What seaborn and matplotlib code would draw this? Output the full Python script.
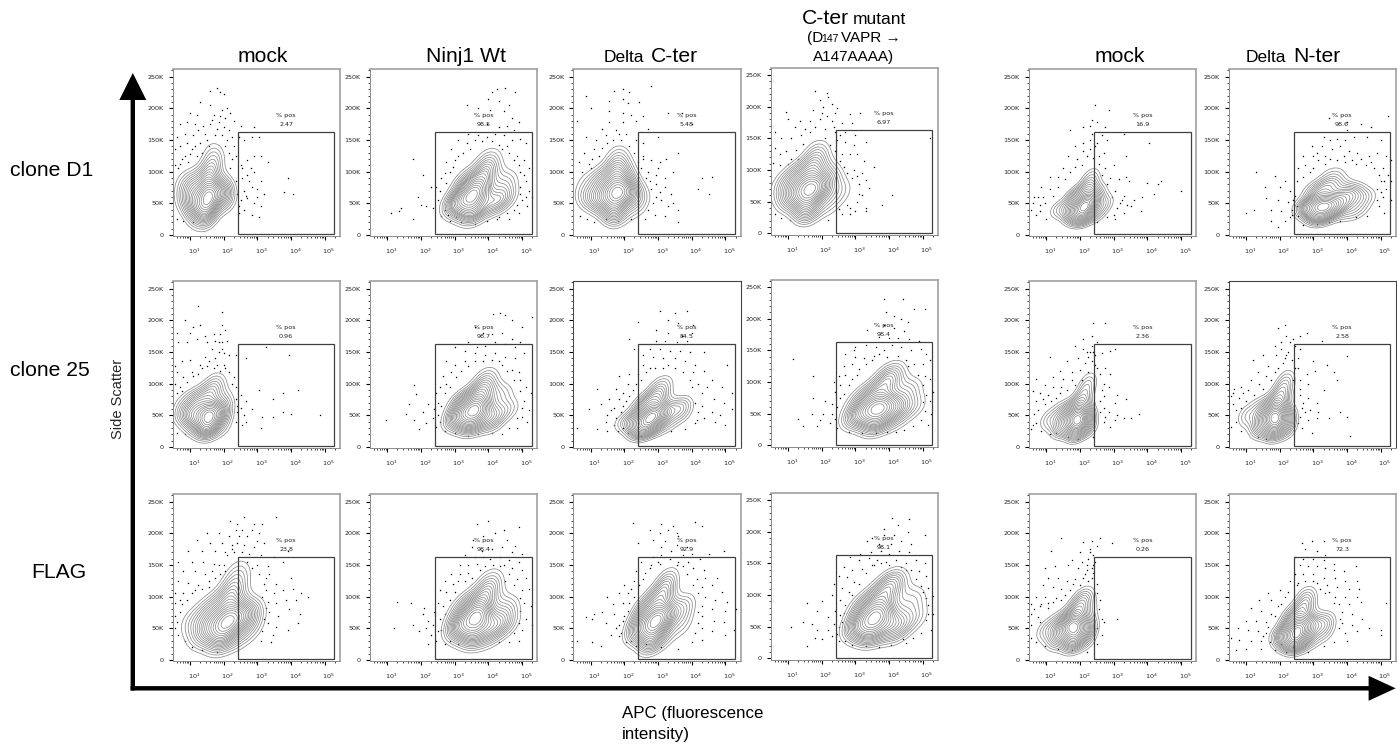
import matplotlib
matplotlib.use("Agg")
import numpy as np
import pandas as pd
import matplotlib.pyplot as plt
from matplotlib.patches import FancyArrow, Rectangle
from matplotlib.transforms import ScaledTranslation
import seaborn as sb

W, H = 1397, 750
SANS = ['Liberation Sans', 'DejaVu Sans']

# axes frame in picture pixels
col_left = [172.7, 370, 573.3, 770.7, 1029, 1228.7]
col_dy = [0, 0, 0, -1.5, 0, 0]
row_top = [69, 281, 494]
box_w, box_h = 167.3, 167
dark_frames = [(1, 2), (1, 5)]

row_names = ['clone D1', 'clone 25', 'FLAG']

pct_labels = [['2.47', '98.5', '5.48', '6.97', '16.9', '98.6'],
              ['0.96', '98.7', '84.5', '98.4', '2.36', '2.58'],
              ['23.8', '98.4', '92.9', '98.1', '0.26', '72.3']]

# dense part of each sample: (log10 APC, SSC in K, weight)
d1_mock_core = [(1.55,62,10),(1.5,35,6),(1.95,70,5),(1.1,50,5),(1.1,80,4),(1.55,95,5),(1.75,120,2.5),(0.8,60,2),(2.1,55,2.5),(1.6,135,1),(0.75,85,1.2),(1.2,30,2)]
d1_wt_core = [(3.65,68,10),(3.5,40,6),(4.2,52,5),(3.2,55,5),(3.35,85,4),(3.95,100,5),(4.0,122,2.5),(4.5,85,3),(4.55,60,2.5),(2.95,50,2.5),(3.0,40,1.5),(3.6,30,2)]
d1_dc_core = [(1.75,66,10),(1.7,35,6),(2.1,70,5),(1.25,55,5),(1.3,85,4),(1.75,100,5),(1.85,125,2.5),(2.45,60,2.5),(2.1,95,2),(0.85,60,2.5),(0.8,85,1),(2.3,40,1.5)]
d1_cmut_core = [(1.67,70,10),(1.55,37,6),(2.05,75,4),(1.2,60,5),(1.25,90,4),(1.75,105,5),(1.9,130,2.5),(2.6,68,2),(2.3,95,2),(0.8,75,2),(0.85,50,1.5),(2.2,45,2)]
d1_mock2_core = [(2.14,47,10),(2.1,30,6),(2.35,55,4),(1.75,38,4),(1.85,60,4),(2.25,75,4),(2.35,95,2),(2.75,50,2.5),(1.35,40,2.5),(2.6,70,1.5),(2.5,32,2),(1.8,28,2)]
d1_dn_core = [(3.3,48,10),(3.2,30,7),(3.6,45,5),(2.95,45,4),(3.1,70,4),(3.55,80,4),(3.6,98,2),(4.1,70,4),(4.5,60,3),(4.3,40,2.5),(2.75,42,2.5),(3.9,55,3),(4.0,30,1.5)]

c25_mock_core = [(1.57,52,10),(1.5,30,7),(1.95,55,4),(1.1,50,5),(1.2,75,4),(1.6,85,4),(1.8,103,2.5),(2.05,75,2),(0.75,50,2.5),(0.8,70,1.5),(1.95,32,2),(1.1,30,2)]
c25_wt_core = [(3.67,61,10),(3.5,36,6),(4.1,50,4),(3.2,50,5),(3.35,75,4),(3.85,90,5),(3.95,112,2.5),(4.4,85,2.5),(4.6,60,2.5),(2.95,40,2.5),(4.1,35,2),(3.05,65,1.5)]
c25_dc_core = [(2.84,51,10),(2.65,30,7),(3.05,50,4),(2.4,42,4),(2.6,68,4),(3.0,80,4),(3.1,100,2.5),(3.65,65,3.5),(3.7,50,2),(2.0,40,2.5),(3.2,32,2),(2.4,28,2)]
c25_cmut_core = [(3.72,62,10),(3.6,35,6),(4.2,60,5),(3.2,50,5),(3.4,80,4),(3.95,100,5),(4.1,118,2.5),(4.6,90,3),(4.75,62,2.5),(2.9,42,2.5),(4.2,38,2),(3.0,68,1.5)]
c25_mock2_core = [(1.91,46,10),(1.9,28,7),(2.15,45,5),(1.5,38,4),(1.7,55,4),(2.05,72,4),(2.2,95,2.5),(2.3,110,1),(1.05,42,2.5),(1.4,60,1.5),(2.3,30,2),(1.4,28,2)]
c25_dn_core = [(1.89,50,10),(1.85,30,7),(2.2,45,4),(1.5,40,4),(1.65,58,4),(2.0,78,4),(2.15,98,2.5),(2.25,113,1),(1.0,48,2.5),(1.35,65,1.5),(2.25,28,2),(1.35,28,2)]

flag_mock_core = [(2.09,62,10),(1.9,33,6),(2.5,70,6),(1.55,50,5),(1.6,80,4),(2.2,100,6),(2.4,130,3),(2.85,75,3),(2.85,50,2),(1.05,60,2.5),(2.4,35,2.5),(1.25,35,2),(2.45,150,0.8)]
flag_wt_core = [(3.72,70,10),(3.55,38,6),(4.2,55,5),(3.2,55,5),(3.4,88,4),(3.95,105,5),(4.1,128,2.5),(4.55,85,3),(4.6,60,2.5),(3.0,45,2.5),(4.0,35,2),(3.05,72,1.5)]
flag_dc_core = [(2.96,64,10),(2.8,32,6),(3.3,70,5),(2.55,50,5),(2.7,85,4),(3.15,105,5),(3.3,128,2.5),(3.8,85,3),(3.75,55,2),(2.25,45,2.5),(3.2,35,2),(2.4,70,1.5)]
flag_cmut_core = [(3.71,70,10),(3.5,40,6),(4.2,55,5),(3.2,55,5),(3.4,88,4),(3.95,108,5),(4.15,125,3),(4.7,95,3),(4.8,65,2.5),(2.95,45,2.5),(4.2,38,2),(3.05,75,1.5)]
flag_mock2_core = [(1.83,54,10),(1.8,30,7),(2.2,50,5),(1.4,42,4),(1.6,62,4),(1.95,85,4),(2.15,102,2.5),(0.95,45,2.5),(1.25,60,1.5),(2.2,30,2),(1.25,28,2),(2.25,80,2)]
flag_dn_core = [(2.55,52,9),(2.5,30,9),(2.9,55,5),(2.2,40,4),(2.35,68,4),(2.75,85,4),(2.8,103,2.5),(3.35,60,3.5),(3.35,42,2),(1.95,38,2.5),(2.9,30,2.5),(2.2,28,2)]

# events outside the outer contour: (log10 APC, SSC in K)
d1_mock_dots = [(1.8,232),(1.9,226),(2.0,222),(1.6,228),(1.3,210),(1.6,205),(1.95,197),(2.1,200),(2.2,192),(1.0,192),(1.2,190),(1.7,190),(1.9,188),(2.3,180),(2.5,172),(2.9,170),(0.7,175),(0.9,178),(1.15,175),(1.4,172),(1.6,175),(1.85,178),(2.0,170),(2.15,165),(0.6,155),(0.85,160),(1.1,158),(1.25,165),(1.45,160),(1.95,158),(2.1,150),(0.55,135),(0.7,140),(0.9,145),(1.05,135),(1.2,125),(0.75,120),(0.95,115),(0.55,110),(0.65,105),(2.15,130),(2.25,120),(2.3,140),(2.45,155),(2.6,150),(2.85,155),(3.05,155),(2.5,110),(2.7,118),(2.9,125),(3.1,125),(3.3,115),(2.55,90),(2.7,95),(2.9,100),(3.1,85),(2.6,70),(2.85,75),(3.0,72),(3.2,65),(2.5,55),(2.7,58),(2.9,50),(3.1,45),(2.6,40),(2.85,32),(3.05,28),(2.45,35),(3.9,90),(3.8,68),(4.05,65),(0.6,25),(0.8,22),(1.1,20),(1.3,145),(1.5,150),(1.75,158),(1.15,140),(0.85,125),(1.0,128),(0.7,112),(1.35,130),(2.05,140),(2.2,105),(2.35,85),(2.4,65),(2.45,45),(2.65,62),(2.75,85),(3.0,60),(2.55,105),(2.35,125),(1.65,182),(2.05,185),(1.8,168),(1.55,140),(2.25,155),(2.8,105)]
d1_wt_dots = [(4.1,226),(4.25,230),(4.5,232),(4.8,225),(4.0,215),(4.3,212),(4.6,205),(3.35,205),(3.7,200),(4.05,198),(4.45,195),(4.7,185),(4.9,178),(3.95,175),(4.3,170),(4.55,172),(4.75,165),(3.4,160),(3.7,158),(3.95,155),(4.2,160),(4.45,158),(4.7,150),(4.95,152),(5.1,145),(3.1,150),(3.35,145),(3.6,150),(2.9,135),(3.1,125),(4.4,135),(4.6,130),(4.85,125),(5.05,118),(5.2,105),(2.75,115),(2.95,108),(2.6,90),(2.75,82),(4.95,100),(5.1,85),(5.2,70),(5.0,55),(5.15,45),(5.3,60),(4.75,40),(4.9,35),(2.45,75),(2.5,55),(2.35,42),(2.6,30),(2.85,22),(3.2,20),(3.6,18),(1.75,120),(2.05,95),(2.3,75),(1.9,60),(2.0,48),(1.1,35),(1.35,38),(1.4,42),(1.75,25),(2.15,45),(4.3,28),(4.6,25),(3.25,130),(3.45,135),(3.0,118),(2.85,100),(2.7,98),(2.55,70),(3.8,148),(4.1,148),(4.3,142),(4.55,140),(4.75,118),(4.9,110),(5.05,95),(4.95,75),(5.1,60),(4.95,65),(4.85,48),(4.55,35),(3.95,22),(4.25,25),(2.7,40),(2.8,32),(3.05,28)]
d1_dc_dots = [(1.7,228),(1.95,230),(2.15,225),(2.8,235),(0.85,220),(1.55,212),(1.95,215),(2.1,208),(2.45,210),(1.0,200),(1.55,195),(1.95,192),(2.2,190),(2.55,188),(3.3,193),(3.7,192),(4.0,175),(0.6,180),(1.55,178),(1.95,178),(2.35,180),(2.7,168),(1.35,168),(1.75,165),(2.05,160),(0.85,155),(1.15,150),(1.45,158),(1.9,150),(2.35,150),(2.55,145),(0.8,130),(1.1,135),(1.35,138),(0.65,115),(0.95,112),(1.05,120),(2.3,130),(2.55,125),(2.8,118),(3.05,115),(3.25,120),(3.6,130),(3.0,155),(2.4,115),(2.7,100),(2.95,95),(3.2,90),(3.45,100),(2.95,80),(3.2,75),(3.4,65),(3.1,55),(3.3,45),(3.45,50),(3.6,40),(2.7,40),(2.9,32),(3.2,30),(3.6,20),(2.6,25),(4.3,90),(4.6,92),(4.5,65),(4.2,72),(0.7,30),(1.1,20),(0.9,25),(1.25,125),(1.5,145),(1.65,150),(1.85,160),(2.15,140),(2.5,105),(2.65,90),(2.8,72),(2.95,60),(3.05,68),(2.85,50),(2.55,120),(3.0,105),(2.75,85),(1.45,25),(1.8,22),(2.2,25),(1.0,105),(0.75,100)]
d1_cmut_dots = [(1.8,225),(2.15,222),(2.2,215),(2.3,205),(2.45,198),(1.95,210),(2.05,200),(2.4,190),(0.95,192),(1.75,195),(2.0,190),(2.85,188),(3.15,190),(1.0,180),(1.35,178),(1.65,178),(1.95,180),(2.3,178),(2.6,175),(2.9,175),(1.2,168),(1.5,165),(1.8,168),(2.1,165),(2.4,160),(2.7,160),(3.0,155),(0.6,160),(0.8,150),(1.1,150),(1.4,155),(2.1,150),(2.45,148),(2.7,145),(2.95,140),(3.3,145),(0.6,135),(0.75,125),(0.95,130),(1.1,118),(0.55,112),(0.75,108),(2.4,130),(2.6,125),(2.85,125),(3.05,125),(3.25,115),(3.55,105),(2.65,105),(2.95,100),(3.2,95),(3.3,85),(3.1,78),(3.4,72),(3.2,60),(3.05,50),(3.3,40),(2.85,40),(2.6,30),(3.0,35),(3.3,35),(4.1,60),(3.8,45),(5.2,150),(0.6,30),(0.8,25),(1.05,22),(2.2,22),(1.25,132),(1.45,142),(1.65,160),(2.25,140),(2.55,115),(2.75,95),(2.9,88),(3.05,90),(3.1,62),(2.85,30),(2.5,38),(2.75,45),(1.0,110),(1.3,118),(2.35,168),(2.55,155),(2.15,185)]
d1_mock2_dots = [(2.45,205),(2.85,198),(2.3,172),(2.5,178),(2.75,170),(1.7,165),(2.1,170),(2.35,160),(2.65,158),(3.3,160),(4.05,145),(1.85,140),(2.1,145),(2.3,150),(2.5,145),(2.8,150),(2.1,132),(2.3,135),(2.55,125),(2.7,130),(3.35,125),(1.65,125),(1.9,120),(2.55,112),(2.75,105),(3.0,110),(3.35,92),(1.5,105),(1.7,100),(1.35,92),(1.1,92),(2.9,90),(3.15,88),(3.45,85),(4.0,82),(4.3,80),(4.4,85),(5.0,70),(1.35,75),(1.1,72),(0.85,75),(0.65,60),(0.9,60),(0.6,50),(0.8,48),(0.55,40),(0.7,32),(1.0,25),(3.05,70),(3.3,62),(3.6,55),(3.85,60),(4.2,65),(3.2,50),(3.5,45),(3.8,38),(3.3,35),(3.0,32),(2.8,28),(2.5,20),(3.05,25),(2.4,122),(2.45,140),(2.2,125),(2.05,110),(1.85,108),(2.65,95),(2.8,80),(2.95,60),(3.1,42),(3.25,55),(3.4,48),(1.2,62),(0.95,50),(0.8,38),(0.75,60),(1.55,88),(2.35,182)]
d1_dn_dots = [(3.45,184),(4.0,178),(4.4,175),(4.7,170),(5.2,188),(4.0,165),(3.3,155),(3.5,150),(3.7,152),(3.95,150),(4.2,155),(4.6,155),(5.0,150),(2.95,140),(3.25,140),(3.55,135),(3.8,140),(4.05,132),(4.3,130),(4.65,125),(4.9,130),(5.15,125),(5.3,118),(2.7,125),(3.0,125),(3.35,125),(3.7,118),(3.95,115),(4.25,112),(4.55,110),(4.8,105),(5.05,105),(5.2,95),(2.55,105),(2.75,110),(3.0,105),(2.5,85),(2.7,92),(5.0,85),(5.3,85),(5.15,72),(5.05,60),(5.3,55),(4.95,45),(5.1,35),(4.6,30),(4.25,28),(3.8,22),(1.3,100),(1.85,93),(2.15,85),(1.55,75),(2.0,75),(2.3,70),(1.6,58),(1.95,55),(2.25,52),(2.45,62),(1.25,40),(1.75,40),(2.05,38),(2.35,40),(1.0,35),(1.75,22),(2.15,22),(2.7,15),(1.95,12),(2.3,28),(3.15,118),(3.35,112),(2.9,100),(3.1,130),(3.5,120),(3.9,125),(4.15,118),(4.4,120),(4.7,115),(4.95,95),(5.1,85),(4.9,72),(5.0,68),(4.9,55),(2.55,30),(2.5,45),(2.4,55),(2.35,32),(3.1,18),(3.45,20)]

c25_mock_dots = [(1.25,222),(1.95,213),(0.85,200),(1.1,190),(1.3,193),(1.95,192),(2.05,185),(0.6,180),(1.0,180),(1.45,175),(1.7,178),(1.9,178),(0.65,165),(0.9,165),(1.2,170),(1.5,165),(1.75,168),(1.95,165),(2.1,168),(1.65,155),(1.85,150),(2.0,148),(2.15,145),(0.55,128),(0.75,135),(1.0,138),(1.3,130),(1.55,135),(1.8,130),(2.0,130),(0.6,118),(0.8,110),(1.05,118),(1.25,115),(0.55,100),(0.7,95),(2.15,118),(2.3,110),(2.35,95),(2.5,82),(2.5,62),(2.65,72),(2.4,55),(2.6,50),(2.85,60),(2.55,35),(3.1,30),(3.75,55),(4.0,52),(3.45,48),(3.15,48),(2.65,40),(3.05,90),(3.45,75),(3.75,85),(4.2,90),(4.85,50),(2.35,145),(2.65,140),(3.25,158),(3.95,145),(0.6,22),(0.85,20),(1.1,112),(1.35,125),(1.5,128),(1.7,125),(1.9,120),(2.05,125),(0.9,102),(0.75,88),(0.6,85),(1.45,142),(1.75,140),(1.95,155),(1.85,165),(2.25,100),(2.35,75),(2.4,65),(2.35,40)]
c25_wt_dots = [(4.35,212),(4.15,210),(4.7,200),(4.5,208),(5.0,190),(5.3,205),(3.6,190),(3.85,180),(4.1,178),(4.4,180),(4.7,170),(4.95,165),(3.4,165),(3.65,158),(3.9,160),(4.2,165),(4.5,162),(4.8,158),(3.0,158),(3.3,152),(3.6,148),(3.9,145),(4.2,148),(4.5,142),(4.8,140),(5.05,148),(2.75,135),(3.0,130),(3.3,135),(3.6,135),(4.4,130),(4.7,122),(4.9,118),(2.65,112),(2.9,118),(3.05,110),(2.55,95),(2.75,100),(2.45,85),(2.5,70),(4.95,105),(5.1,95),(5.25,85),(5.05,72),(5.2,58),(5.0,48),(5.15,40),(4.85,30),(2.4,60),(2.2,68),(2.35,45),(2.05,55),(2.15,38),(2.45,32),(2.7,25),(3.0,22),(3.4,18),(4.4,20),(1.8,98),(1.85,84),(1.65,68),(1.55,52),(0.95,42),(1.8,42),(1.95,28),(3.2,120),(3.4,128),(2.85,95),(2.7,85),(2.6,65),(2.5,50),(2.55,40),(4.3,135),(4.55,120),(4.75,105),(4.95,88),(5.0,62),(4.85,45),(4.6,30),(3.85,135),(4.1,138),(3.7,20),(4.1,22)]
c25_dc_dots = [(3.05,215),(3.5,212),(3.85,215),(2.4,198),(3.3,200),(3.6,195),(4.05,192),(2.95,185),(3.3,180),(3.7,175),(4.0,180),(2.15,170),(2.95,168),(3.2,168),(3.55,165),(3.85,168),(2.3,155),(2.75,155),(3.05,155),(3.35,152),(3.65,152),(3.95,150),(4.35,150),(2.55,145),(2.85,142),(3.15,140),(3.5,140),(3.8,135),(4.1,130),(2.55,130),(2.75,125),(3.5,125),(3.75,118),(4.05,118),(2.15,115),(2.4,115),(4.35,120),(5.05,130),(1.85,112),(2.1,100),(2.35,100),(1.75,92),(1.95,85),(2.15,80),(1.55,75),(1.7,62),(1.95,65),(1.2,92),(1.3,68),(0.95,60),(1.5,50),(1.75,45),(1.9,55),(1.45,40),(1.7,35),(1.2,28),(1.5,25),(1.95,30),(4.2,100),(4.6,105),(4.9,95),(5.2,85),(4.3,85),(4.65,75),(4.95,70),(5.2,60),(4.3,65),(4.6,55),(4.85,50),(4.35,45),(4.7,40),(5.0,35),(4.1,38),(3.8,28),(3.4,25),(0.6,30),(2.9,125),(3.15,125),(3.3,130),(2.65,118),(2.5,105),(2.25,90),(2.05,72),(1.85,75),(1.6,58),(1.8,25),(2.1,22),(2.5,18),(4.1,70),(4.2,55),(4.0,95),(3.95,105),(4.45,95),(4.15,42)]
c25_cmut_dots = [(3.85,232),(4.4,232),(4.75,215),(5.05,215),(3.9,210),(4.15,205),(4.35,200),(4.55,195),(3.35,182),(3.85,190),(4.15,185),(4.45,180),(3.7,172),(4.0,170),(4.25,170),(4.6,168),(4.9,165),(3.0,155),(3.3,158),(3.6,155),(3.85,150),(4.1,158),(4.35,155),(4.65,150),(4.95,152),(5.1,145),(2.7,145),(3.0,140),(3.25,138),(3.55,142),(4.5,135),(4.75,128),(5.0,128),(5.2,135),(2.65,125),(2.9,128),(3.1,120),(2.5,110),(2.7,112),(2.9,105),(2.35,100),(2.55,95),(2.4,85),(2.55,75),(5.05,110),(5.2,105),(5.3,85),(5.2,70),(5.05,55),(5.25,50),(4.95,40),(5.15,32),(4.7,30),(2.3,65),(2.1,70),(2.3,50),(2.05,50),(1.95,40),(2.25,35),(2.45,28),(2.8,22),(3.2,20),(4.2,22),(1.15,137),(1.75,110),(1.75,75),(1.3,42),(1.45,30),(1.7,50),(1.85,30),(3.3,128),(3.5,135),(3.7,145),(3.95,140),(4.25,142),(4.55,125),(4.85,112),(5.0,95),(5.1,80),(5.0,68),(3.05,112),(2.8,95),(2.65,82),(2.45,60),(2.4,42),(3.6,20),(3.95,22),(4.45,25),(2.95,150)]
c25_mock2_dots = [(2.4,195),(2.75,195),(1.85,160),(2.1,170),(2.35,175),(2.5,165),(2.1,155),(2.3,150),(2.45,145),(2.65,148),(2.9,152),(3.05,155),(1.1,142),(1.6,135),(1.95,140),(2.15,132),(2.35,135),(2.5,125),(2.75,125),(1.4,120),(1.75,118),(2.0,122),(2.6,115),(2.9,115),(1.2,110),(1.5,108),(1.75,105),(0.7,108),(0.95,98),(1.2,95),(1.45,95),(2.7,100),(2.85,95),(3.1,82),(0.6,88),(0.8,85),(1.05,82),(1.3,78),(0.7,72),(0.95,68),(0.5,60),(0.75,58),(2.7,80),(3.05,70),(3.35,75),(2.7,62),(2.85,55),(3.1,50),(3.5,45),(3.75,52),(3.05,42),(3.3,45),(0.5,45),(0.7,38),(0.55,28),(0.85,25),(2.7,40),(2.9,32),(1.65,15),(1.95,12),(2.4,15),(2.25,142),(2.4,150),(2.2,150),(2.35,160),(2.45,130),(2.25,118),(2.05,105),(1.85,98),(1.6,90),(1.4,85),(1.15,72),(0.9,75),(0.65,52),(0.6,35),(2.6,72),(2.6,55),(2.65,90),(2.75,48),(1.3,22),(1.1,20)]
c25_dn_dots = [(2.15,192),(1.95,188),(2.4,170),(2.2,175),(2.05,165),(2.6,175),(2.8,180),(3.25,168),(1.85,160),(2.05,155),(2.25,150),(2.45,160),(2.6,155),(1.5,145),(1.9,145),(2.15,140),(2.55,140),(3.0,135),(3.4,130),(4.0,143),(1.2,138),(1.65,128),(1.95,125),(2.55,125),(2.8,115),(3.05,120),(3.6,118),(3.7,105),(1.35,118),(1.6,112),(1.15,105),(1.4,100),(0.85,95),(1.05,90),(0.65,92),(2.6,105),(2.85,100),(3.3,90),(0.55,80),(0.8,78),(1.0,72),(0.6,68),(0.85,62),(2.6,82),(2.85,78),(3.1,70),(2.65,62),(2.9,58),(3.15,55),(2.6,48),(2.85,42),(3.1,45),(3.45,45),(3.8,55),(4.0,48),(0.5,50),(0.7,40),(0.55,32),(0.85,25),(1.35,15),(1.6,12),(2.65,30),(2.95,22),(4.1,17),(2.3,165),(2.2,145),(2.35,138),(2.1,132),(1.85,118),(1.75,105),(1.5,92),(1.25,82),(2.6,92),(2.7,70),(2.75,55),(2.55,38),(0.7,58),(0.6,85),(0.9,85),(2.45,125),(2.4,105)]

flag_mock_dots = [(2.2,220),(2.4,215),(2.6,225),(2.9,215),(3.15,214),(3.55,226),(2.35,205),(2.55,205),(2.85,205),(3.05,200),(1.5,200),(1.85,200),(2.15,195),(2.45,195),(2.7,195),(3.0,188),(3.2,185),(1.2,190),(1.6,185),(1.95,185),(2.25,182),(2.6,182),(2.9,178),(3.9,172),(0.95,172),(1.35,172),(1.75,172),(2.05,170),(2.3,170),(2.75,168),(3.1,165),(3.5,162),(0.65,155),(1.05,155),(1.4,155),(1.7,152),(2.0,150),(3.0,150),(3.3,148),(3.75,155),(0.8,140),(1.15,140),(1.45,135),(1.75,130),(3.05,135),(3.25,130),(3.55,120),(4.0,130),(0.65,125),(0.95,122),(1.25,118),(1.55,115),(0.55,105),(0.8,105),(1.05,105),(3.25,110),(3.5,105),(3.75,110),(4.05,112),(4.3,105),(0.55,90),(0.75,88),(0.55,70),(0.7,75),(3.3,92),(3.55,90),(3.85,95),(4.15,95),(4.5,100),(3.35,75),(3.6,70),(3.95,80),(4.25,72),(3.3,58),(3.55,52),(3.9,48),(4.2,58),(3.45,40),(3.1,30),(3.4,28),(0.55,50),(0.65,40),(0.85,30),(1.05,20),(1.35,15),(1.8,12),(1.85,150),(2.1,165),(2.25,175),(2.4,185),(2.55,170),(2.7,155),(2.85,145),(1.55,125),(1.35,112),(1.15,110),(0.9,95),(0.7,95),(0.6,60),(3.2,120),(3.15,100),(3.25,82),(3.2,65),(3.15,45),(2.05,140),(1.9,135),(1.65,140),(3.35,135)]
flag_wt_dots = [(3.65,215),(4.0,220),(4.45,205),(4.9,210),(3.55,190),(3.85,195),(4.2,200),(4.55,190),(4.8,180),(3.5,178),(3.8,172),(4.1,175),(4.4,178),(4.7,170),(5.0,168),(3.3,165),(3.6,162),(3.85,163),(4.05,160),(4.35,162),(4.6,158),(4.9,155),(3.15,150),(3.4,150),(3.65,152),(3.9,148),(4.45,150),(4.7,145),(5.0,142),(2.9,135),(3.15,135),(3.4,138),(4.6,135),(4.85,128),(5.1,130),(2.7,125),(2.95,120),(3.1,125),(2.55,110),(2.75,108),(5.0,110),(5.2,112),(2.5,90),(2.65,85),(5.05,90),(5.25,85),(2.4,75),(2.55,65),(5.1,65),(5.3,55),(5.0,48),(2.35,55),(2.2,62),(2.5,45),(2.3,40),(2.45,30),(2.7,26),(4.9,30),(4.6,28),(2.1,82),(1.7,90),(1.3,92),(1.2,50),(1.75,55),(1.95,45),(2.05,72),(2.2,25),(2.15,50),(3.3,125),(3.5,130),(3.75,142),(4.15,150),(4.35,148),(4.5,125),(4.75,118),(4.95,98),(4.95,78),(4.9,58),(4.75,42),(4.3,28),(3.0,108),(2.85,95),(2.7,72),(2.6,48),(2.85,30),(3.1,25)]
flag_dc_dots = [(2.25,216),(3.1,215),(3.45,212),(3.55,200),(4.1,218),(4.3,212),(2.75,205),(3.05,200),(3.3,205),(3.6,195),(2.4,185),(2.85,190),(3.2,188),(3.55,182),(3.85,178),(3.1,178),(3.4,172),(3.75,165),(4.0,168),(4.5,168),(4.95,172),(2.85,162),(3.1,165),(3.35,160),(3.6,155),(3.9,155),(4.25,160),(2.5,155),(2.8,150),(3.05,152),(3.75,148),(4.05,145),(4.35,142),(2.35,140),(2.6,138),(4.15,128),(4.4,130),(4.75,130),(2.0,118),(2.3,125),(2.45,118),(4.3,115),(4.6,118),(4.9,108),(1.85,105),(2.1,105),(2.3,100),(4.4,100),(4.7,95),(5.05,92),(1.5,100),(1.65,88),(1.95,90),(2.1,78),(4.3,85),(4.6,80),(5.0,78),(5.3,80),(1.1,72),(1.35,75),(1.7,72),(1.95,62),(4.3,70),(4.65,62),(4.95,60),(5.25,48),(0.85,68),(1.05,65),(1.45,58),(1.75,50),(4.3,50),(4.6,45),(5.0,40),(1.6,40),(1.85,38),(0.6,30),(1.05,28),(1.3,22),(2.05,28),(2.35,22),(3.1,20),(3.6,18),(4.3,32),(4.0,28),(2.55,128),(2.75,145),(3.0,155),(3.55,150),(3.85,135),(4.05,118),(4.2,105),(4.2,75),(4.2,58),(4.1,42),(2.2,112),(2.15,90),(2.0,70),(1.85,55),(1.9,42),(2.2,30),(2.65,25)]
flag_cmut_dots = [(4.1,222),(4.6,220),(4.25,210),(3.85,205),(3.5,190),(3.85,195),(4.15,195),(4.55,200),(5.05,195),(3.35,185),(3.7,180),(4.05,180),(4.35,185),(4.65,180),(3.15,165),(3.45,168),(3.75,170),(4.0,165),(4.3,170),(4.6,168),(2.85,160),(3.1,155),(3.4,158),(3.65,155),(3.9,152),(4.2,155),(4.5,150),(4.8,155),(5.05,150),(2.65,145),(2.9,140),(3.2,142),(3.5,148),(4.65,140),(4.9,138),(5.1,130),(2.5,130),(2.75,128),(2.95,120),(2.35,118),(2.6,112),(2.8,105),(4.95,115),(5.15,112),(5.3,98),(2.3,100),(2.55,92),(2.7,85),(2.4,75),(2.55,68),(5.15,85),(5.3,70),(5.1,60),(5.25,45),(4.95,40),(4.7,32),(4.4,30),(2.35,55),(2.2,65),(2.5,50),(2.2,45),(2.3,35),(2.5,28),(2.9,22),(3.3,20),(3.7,18),(1.55,88),(1.85,75),(2.0,90),(1.1,50),(1.45,58),(1.7,55),(1.85,45),(1.8,32),(1.55,20),(2.0,30),(3.3,135),(3.55,148),(3.75,150),(4.0,148),(4.35,145),(4.5,140),(4.8,125),(5.0,105),(5.1,95),(5.15,70),(3.1,118),(2.9,100),(2.65,72),(2.6,58),(2.45,38),(2.7,28),(4.05,22),(4.5,24)]
flag_mock2_dots = [(1.45,192),(2.1,187),(2.35,188),(2.6,192),(2.95,185),(1.15,172),(2.0,170),(2.3,175),(2.5,180),(1.75,158),(2.05,155),(2.25,160),(2.4,165),(0.95,145),(1.25,148),(1.65,150),(1.95,145),(2.2,142),(2.4,150),(1.05,130),(1.35,130),(1.6,125),(1.85,128),(2.1,130),(2.35,130),(2.5,120),(0.9,118),(1.2,115),(1.45,112),(1.7,110),(2.5,105),(2.6,95),(0.7,100),(0.95,100),(1.2,92),(1.45,95),(0.55,88),(0.8,85),(1.05,82),(2.55,80),(2.65,65),(0.55,72),(0.75,68),(2.7,60),(3.1,65),(2.5,50),(2.65,40),(0.55,35),(0.7,28),(0.95,22),(1.35,18),(1.75,15),(2.2,12),(2.5,25),(2.3,170),(2.2,150),(2.35,145),(2.25,125),(2.0,118),(1.8,120),(1.55,102),(1.3,98),(1.05,90),(0.85,88),(0.65,80),(0.55,55),(0.8,60),(2.4,138),(2.15,135),(2.45,155)]
flag_dn_dots = [(2.65,185),(2.95,188),(3.3,188),(2.75,175),(3.1,172),(3.35,165),(2.45,162),(2.7,160),(3.0,160),(3.3,158),(3.6,152),(2.6,150),(2.85,148),(3.1,148),(3.35,145),(3.6,142),(3.9,140),(4.25,148),(2.45,135),(2.7,135),(3.0,135),(3.3,130),(3.65,130),(3.95,125),(4.3,125),(2.3,125),(2.55,122),(3.1,122),(3.4,118),(3.7,115),(4.05,112),(4.35,112),(1.65,105),(2.0,110),(2.25,108),(3.35,105),(3.65,100),(3.95,100),(4.3,100),(1.4,95),(1.75,95),(2.05,88),(3.75,88),(4.05,88),(4.4,92),(5.15,90),(1.15,82),(1.45,78),(1.75,72),(3.85,75),(4.15,72),(4.45,65),(1.0,62),(1.3,62),(1.6,60),(3.85,58),(4.15,55),(4.65,50),(5.0,48),(0.75,50),(1.05,48),(1.35,45),(1.6,42),(3.95,42),(4.3,45),(5.0,40),(0.55,35),(0.8,32),(1.15,30),(1.45,30),(1.7,28),(0.7,15),(1.0,18),(1.45,18),(1.85,15),(2.2,12),(2.85,12),(4.0,30),(2.5,118),(2.75,125),(3.0,125),(3.2,112),(3.45,108),(3.6,90),(3.8,65),(3.75,50),(2.15,100),(1.95,85),(1.85,70),(1.65,52),(1.5,38),(2.05,25),(2.4,20),(3.3,22),(3.6,28)]

row_core = [[d1_mock_core, d1_wt_core, d1_dc_core, d1_cmut_core, d1_mock2_core, d1_dn_core],
            [c25_mock_core, c25_wt_core, c25_dc_core, c25_cmut_core, c25_mock2_core, c25_dn_core],
            [flag_mock_core, flag_wt_core, flag_dc_core, flag_cmut_core, flag_mock2_core, flag_dn_core]]
row_dots = [[d1_mock_dots, d1_wt_dots, d1_dc_dots, d1_cmut_dots, d1_mock2_dots, d1_dn_dots],
            [c25_mock_dots, c25_wt_dots, c25_dc_dots, c25_cmut_dots, c25_mock2_dots, c25_dn_dots],
            [flag_mock_dots, flag_wt_dots, flag_dc_dots, flag_cmut_dots, flag_mock2_dots, flag_dn_dots]]

# gate and axis ranges
gate_x = (2.416, 5.28)
gate_y = (1, 163)
x_range = (0.487, 5.45)
y_range = (-1.6, 262)
y_major = [0, 50, 100, 150, 200, 250]
y_major_text = ['0', '50K', '100K', '150K', '200K', '250K']
x_major = [1, 2, 3, 4, 5]


def draw_panel(ax, core, dots, pct, dark):
    core_df = pd.DataFrame(core, columns=['apc', 'ssc', 'w'])
    dots_df = pd.DataFrame(dots, columns=['apc', 'ssc'])
    sb.scatterplot(data=dots_df, x='apc', y='ssc', s=1.1, color='black', linewidth=0, ax=ax, legend=False)
    sb.kdeplot(data=core_df, x='apc', y='ssc', weights='w', levels=19, thresh=0.09, bw_adjust=0.92,
               gridsize=140, cut=4, color='#8c8c8c', linewidths=0.55, ax=ax)
    ax.add_patch(Rectangle((gate_x[0], gate_y[0]), gate_x[1] - gate_x[0], gate_y[1] - gate_y[0],
                           fill=False, ec='#404040', lw=0.9, zorder=5))
    ax.text(3.85, 189, '% pos', ha='center', va='center', fontsize=4.6, family='DejaVu Sans', color='#222222')
    ax.text(3.85, 175, pct, ha='center', va='center', fontsize=4.6, family='DejaVu Sans', color='#222222')

    ax.set_xlim(*x_range)
    ax.set_ylim(*y_range)
    ax.set_xlabel('')
    ax.set_ylabel('')
    ax.set_xticks(x_major)
    ax.set_xticklabels(['$\\mathregular{10^{%d}}$' % k for k in x_major], family='DejaVu Sans')
    minors = [np.log10(m * 10.0 ** d) for d in range(0, 6) for m in range(2, 10)]
    ax.set_xticks([m for m in minors if x_range[0] < m < x_range[1]], minor=True)
    ax.set_yticks(y_major)
    ax.set_yticklabels(y_major_text, family='DejaVu Sans')
    ax.set_yticks(np.arange(0, 261, 10), minor=True)
    ax.tick_params(axis='both', which='major', length=3, width=0.8, labelsize=4.6, color='black', pad=3.5,
                   labelcolor='#222222', bottom=True, left=True)
    ax.tick_params(axis='both', which='minor', length=1.5, width=0.5, color='black', bottom=True, left=True)
    ax.tick_params(axis='x', which='major', pad=5)
    shift = ScaledTranslation(4 / 100, 0, ax.figure.dpi_scale_trans)
    for lab in ax.get_xticklabels():
        lab.set_transform(lab.get_transform() + shift)
    for side in ['top', 'right']:
        ax.spines[side].set_visible(True)
        ax.spines[side].set_color('#444444' if dark else '#a0a0a0')
        ax.spines[side].set_linewidth(0.8 if dark else 1.2)
    ax.spines['left'].set_color('#444444' if dark else '#8a8a8a')
    ax.spines['left'].set_linewidth(0.7)
    ax.spines['bottom'].set_color('#8a8a8a')
    ax.spines['bottom'].set_linewidth(0.7)


sb.set_theme(style='white')
plt.rcParams['font.family'] = SANS
fig = plt.figure(figsize=(W / 100, H / 100), dpi=100, facecolor='white')

for r in range(3):
    for c in range(6):
        top = row_top[r] + col_dy[c]
        ax = fig.add_axes([col_left[c] / W, 1 - (top + box_h) / H, box_w / W, box_h / H])
        ax.set_facecolor('none')
        draw_panel(ax, row_core[r][c], row_dots[r][c], pct_labels[r][c], (r, c) in dark_frames)

# overlay in picture pixels for arrows and the big labels
ov = fig.add_axes([0, 0, 1, 1], zorder=10)
ov.set_xlim(0, W)
ov.set_ylim(H, 0)
ov.axis('off')
ov.patch.set_alpha(0)

ov.add_patch(FancyArrow(132.8, 690.5, 0, -617.5, width=4.4, head_width=27, head_length=27,
                        length_includes_head=True, color='black', lw=0))
ov.add_patch(FancyArrow(130.6, 688.3, 1265, 0, width=4.4, head_width=25, head_length=27,
                        length_includes_head=True, color='black', lw=0))


def label(x, y, s, size=15.2, **kw):
    ov.text(x, y, s, fontsize=size, va='baseline', ha='left', color='black', family=SANS, **kw)


label(237.5, 62, 'mock')
label(426, 62, 'Ninj1 Wt')
label(603.6, 62, 'Delta', 12.5)
label(651, 62, 'C-ter')
label(801.7, 24, 'C-ter')
label(853, 24, 'mutant', 12.5)
label(806.7, 41.7, '(D', 11)
label(821, 41.7, '147', 7.5)
label(841, 41.7, 'VAPR \u2192', 11)
label(812.7, 60.7, 'A147AAAA)', 11)
label(1095, 62, 'mock')
label(1246, 62, 'Delta', 12.5)
label(1293, 62, 'N-ter')

label(10, 176.5, row_names[0])
label(10, 376.5, row_names[1])
label(31, 577.5, row_names[2])

ov.text(118, 399, 'Side Scatter', rotation=90, fontsize=10.5, ha='center', va='center', family=SANS)
label(622.3, 718, 'APC (fluorescence', 12.2)
label(622.3, 739.5, 'intensity)', 12.2)

fig.savefig('out.png', dpi=100, facecolor='white')
